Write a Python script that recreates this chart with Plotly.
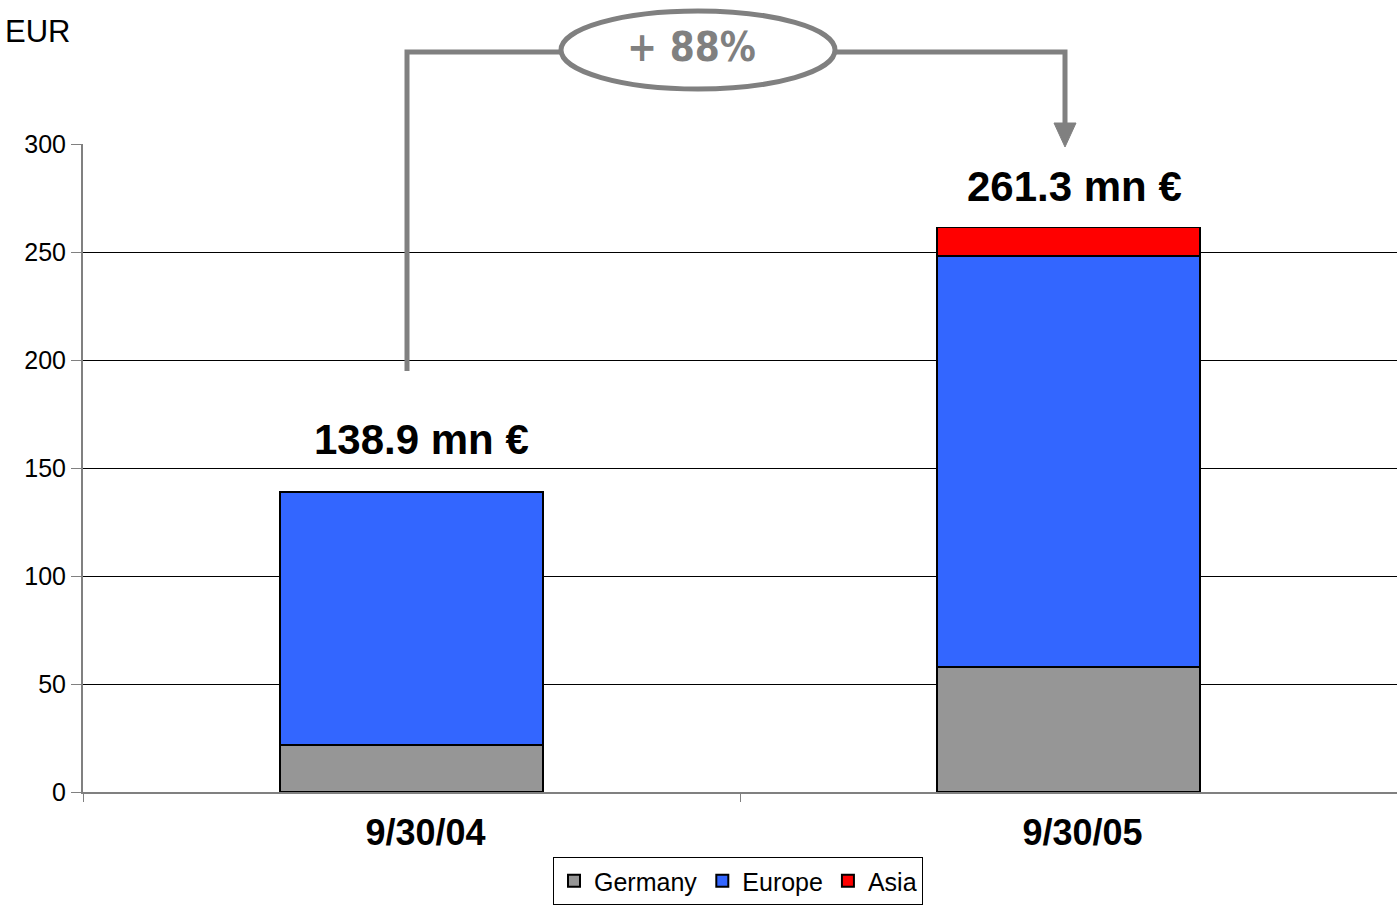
import plotly.graph_objects as go

categories = ["9/30/04", "9/30/05"]
germany = [21.8, 57.9]
europe = [117.1, 190.2]
asia = [0.0, 13.2]
totals = [138.9, 261.3]
total_labels = ["138.9 mn €", "261.3 mn €"]
growth_label = "+ 88%"
y_ticks = [0, 50, 100, 150, 200, 250, 300]

W, H = 1397, 906
L, R, T, B = 83, 0, 144, 114
PW, PH = W - L - R, H - T - B


def px(x):
    return (x - L) / PW


def py(y):
    return (H - B - y) / PH


fig = go.Figure()
line_style = dict(color="#000000", width=1.5)
fig.add_trace(go.Bar(name="Germany", x=categories, y=germany,
                     marker=dict(color="#969696", line=line_style)))
fig.add_trace(go.Bar(name="Europe", x=categories, y=europe,
                     marker=dict(color="#3366FF", line=line_style)))
fig.add_trace(go.Bar(name="Asia", x=categories, y=asia,
                     marker=dict(color="#FF0000", line=line_style)))

font_family = "Liberation Sans, Arial, sans-serif"

annotations = []
shifts = [(10, 52), (6, 41)]
for cat, tot, lab, (xs, ys) in zip(categories, totals, total_labels, shifts):
    annotations.append(dict(x=cat, y=tot, xref="x", yref="y", text=f"<b>{lab}</b>",
                            showarrow=False, xshift=xs, yshift=ys,
                            font=dict(size=42, color="#000000", family=font_family)))

annotations.append(dict(x=px(691), y=py(47), xref="paper", yref="paper",
                        xanchor="center", yanchor="middle",
                        text=f"<b>{growth_label}</b>", showarrow=False,
                        font=dict(size=40, color="#808080",
                                  family="DejaVu Sans Condensed, Liberation Sans Narrow, Liberation Sans, sans-serif")))
annotations.append(dict(x=px(3), y=py(32), xref="paper", yref="paper", text="EUR",
                        showarrow=False, xanchor="left", yanchor="middle",
                        font=dict(size=31, color="#000000", family=font_family)))

gray = "#808080"
shapes = [
    dict(type="path", xref="paper", yref="paper",
         path=f"M {px(407)},{py(371)} L {px(407)},{py(52)} L {px(562)},{py(52)}",
         line=dict(color=gray, width=5)),
    dict(type="path", xref="paper", yref="paper",
         path=f"M {px(834)},{py(52)} L {px(1065)},{py(52)} L {px(1065)},{py(128)}",
         line=dict(color=gray, width=5)),
    dict(type="path", xref="paper", yref="paper",
         path=f"M {px(1054)},{py(123)} L {px(1076)},{py(123)} L {px(1065)},{py(147)} Z",
         fillcolor=gray, line=dict(color=gray, width=1)),
    dict(type="circle", xref="paper", yref="paper",
         x0=px(561), x1=px(835), y0=py(89), y1=py(11),
         fillcolor="white", line=dict(color=gray, width=5)),
]

fig.update_layout(
    barmode="stack",
    bargap=0.6,
    width=W, height=H,
    margin=dict(l=L, r=R, t=T, b=B, pad=0),
    paper_bgcolor="white", plot_bgcolor="white",
    font=dict(family=font_family, color="#000000"),
    showlegend=True,
    legend=dict(orientation="h", x=px(738), xanchor="center", y=py(905), yanchor="bottom",
                bordercolor="#000000", borderwidth=1, bgcolor="white",
                font=dict(size=25, family=font_family), traceorder="normal",
                itemsizing="constant", tracegroupgap=0),
    annotations=annotations,
    shapes=shapes,
    xaxis=dict(type="category", showgrid=False, showline=True, linecolor=gray, linewidth=2,
               ticks="outside", tickson="boundaries", ticklen=8, tickcolor=gray, tickwidth=1,
               tickfont=dict(size=36, family=font_family, color="#000000"),
               ticklabelstandoff=8, ticklabelshift=14),
    yaxis=dict(range=[0, 300], tickvals=y_ticks, showgrid=True, gridcolor="#000000", gridwidth=1,
               showline=True, linecolor=gray, linewidth=2, ticks="outside", ticklen=10,
               tickcolor=gray, tickfont=dict(size=25, family=font_family, color="#000000"),
               zeroline=False),
)
fig.update_xaxes(tickprefix="<b>", ticksuffix="</b>")

fig.write_html("out.html", config={"displayModeBar": False},
               post_script="document.body.style.margin='0';document.body.style.overflow='hidden';")
